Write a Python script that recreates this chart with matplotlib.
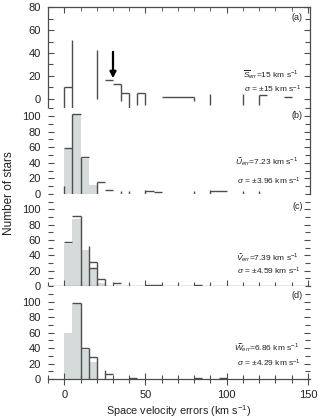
import numpy as np
import matplotlib
matplotlib.use("Agg")
import matplotlib.pyplot as plt
from matplotlib.ticker import MultipleLocator

plt.rcParams['font.family'] = ['Liberation Sans', 'DejaVu Sans']
plt.rcParams['mathtext.fontset'] = 'custom'
plt.rcParams['mathtext.rm'] = 'Liberation Sans'
plt.rcParams['mathtext.it'] = 'Liberation Sans:italic'

# ===== Data =====
# gray filled histograms (bins of 5 km/s starting at 0)
fill_edges = [0, 5, 10, 15, 20, 25]
b_fill = [58, 103, 45, 11]
c_fill = [55, 88, 47.5, 23, 3.5]
d_fill = [60, 97, 37, 22]

# open histogram: bin tops (left, right, count)
a_top_lo = [0, 25, 30, 35, 45, 60, 120, 135]
a_top_hi = [5, 30, 35, 40, 50, 80, 125, 140]
a_top_val = [10, 16.5, 13, 5.5, 5.5, 2, 3.5, 2]

b_top_lo = [0, 5, 10, 20, 25, 50, 55, 90]
b_top_hi = [5, 10, 15, 25, 30, 55, 60, 100]
b_top_val = [59, 103, 47, 15, 5, 4, 2, 4]

c_top_lo = [0, 5, 15, 15, 20, 30, 50, 80]
c_top_hi = [5, 10, 20, 20, 25, 35, 60, 85]
c_top_val = [57.5, 91, 31, 23, 9, 4, 1.3, 1]

d_top_lo = [5, 10, 15, 25, 40, 80, 95]
d_top_hi = [10, 15, 20, 30, 45, 85, 100]
d_top_val = [98, 40, 29, 6, 1, 1, 1]

# open histogram: bin edges (x, bottom, top)
a_edge_x = [0, 5, 20, 35, 40, 45, 50, 80, 90, 110, 120]
a_edge_lo = [-8, -8, 0, -1.5, -8, -5, -5, -2, -5, -5, -5]
a_edge_hi = [10, 51, 42.5, 13, 5.5, 5.5, 5.5, 2, 4, 4, 3.5]

b_edge_x = [0, 5, 10, 20, 35, 40, 50, 80, 90, 110, 120]
b_edge_lo = [-8, 0, 0, 0, -4, -4, -4, -4, -4, -4, -4]
b_edge_hi = [10, 103, 47, 15, 4, 4, 5, 4, 5, 4, 4]

c_edge_x = [10, 15, 20, 25]
c_edge_lo = [0, 0, 0, 0]
c_edge_hi = [91, 52, 31, 9]

d_edge_x = [10, 15, 20, 25]
d_edge_lo = [0, 0, 0, 0]
d_edge_hi = [98, 40, 29, 11]

# arrow in panel (a)
arrow_x, arrow_from, arrow_to = 30, 41, 18

panel_tags = ["(a)", "(b)", "(c)", "(d)"]
stat_lines = [
    r"$\overline{S}_{err}$=15 km s$^{-1}$",
    r"$\widetilde{U}_{err}$=7.23 km s$^{-1}$",
    r"$\widetilde{V}_{err}$=7.39 km s$^{-1}$",
    r"$\widetilde{W}_{err}$=6.86 km s$^{-1}$",
]
sigma_lines = [
    r"$\sigma$ = $\pm$15 km s$^{-1}$",
    r"$\sigma$ = $\pm$3.96 km s$^{-1}$",
    r"$\sigma$ = $\pm$4.59 km s$^{-1}$",
    r"$\sigma$ = $\pm$4.29 km s$^{-1}$",
]
ylims = [(-8, 80), (0, 110), (0, 120), (0, 120)]

# ===== Plotting =====
line_c = "#4d4d4d"
fill_c = "#d4dbda"
text_c = "#222222"

fig = plt.figure(figsize=(3.19, 4.18), dpi=100)
gs = fig.add_gridspec(4, 1, height_ratios=[101, 86, 92, 93], hspace=0,
                      left=0.1505, right=0.973, top=0.983, bottom=0.0933)
axes = [fig.add_subplot(gs[i]) for i in range(4)]

fills = [None, b_fill, c_fill, d_fill]
tops = [(a_top_lo, a_top_hi, a_top_val), (b_top_lo, b_top_hi, b_top_val),
        (c_top_lo, c_top_hi, c_top_val), (d_top_lo, d_top_hi, d_top_val)]
edges = [(a_edge_x, a_edge_lo, a_edge_hi), (b_edge_x, b_edge_lo, b_edge_hi),
         (c_edge_x, c_edge_lo, c_edge_hi), (d_edge_x, d_edge_lo, d_edge_hi)]
tag_y = [0.90, 0.915, 0.87, 0.90]
stat_y = [(0.33, 0.19), (0.37, 0.15), (0.31, 0.155), (0.34, 0.17)]

for i, ax in enumerate(axes):
    if fills[i] is not None:
        vals = fills[i]
        lefts = np.array(fill_edges[:len(vals)])
        ax.bar(lefts, vals, width=5, align="edge", color=fill_c, linewidth=0, zorder=1)
    lo, hi, v = tops[i]
    ax.hlines(v, lo, hi, color=line_c, linewidth=1.0, zorder=2)
    ex, elo, ehi = edges[i]
    ax.vlines(ex, elo, ehi, color=line_c, linewidth=1.0, zorder=2)

    ax.set_xlim(-10, 151.5)
    ax.set_ylim(*ylims[i])
    ax.xaxis.set_major_locator(MultipleLocator(50))
    ax.xaxis.set_minor_locator(MultipleLocator(10))
    ax.yaxis.set_major_locator(MultipleLocator(20))
    ax.yaxis.set_minor_locator(MultipleLocator(10))
    ax.tick_params(axis="y", which="both", direction="in", left=True, right=True,
                   labelsize=8, labelcolor=text_c, color=line_c, pad=5)
    ax.tick_params(axis="y", which="major", length=4.5, width=0.8)
    ax.tick_params(axis="y", which="minor", length=3.5, width=0.8)

    ax.text(0.97, tag_y[i], panel_tags[i], transform=ax.transAxes, ha="right",
            va="center", fontsize=6.5, color=text_c)
    ax.text(0.955, stat_y[i][0], stat_lines[i], transform=ax.transAxes, ha="right",
            va="center", fontsize=6, color=text_c)
    ax.text(0.965, stat_y[i][1], sigma_lines[i], transform=ax.transAxes, ha="right",
            va="center", fontsize=6, color=text_c)

# panel (a): full box, ticks inward
ax = axes[0]
for s in ["left", "right", "top"]:
    ax.spines[s].set_color(line_c)
    ax.spines[s].set_linewidth(0.9)
ax.spines["bottom"].set_visible(False)
ax.set_yticks([0, 20, 40, 60, 80])
ax.tick_params(axis="x", which="both", bottom=False, top=True, direction="in",
               labelbottom=False, color=line_c)
ax.tick_params(axis="x", which="major", length=4.5)
ax.tick_params(axis="x", which="minor", length=3)
ax.annotate("", xy=(arrow_x, arrow_to), xytext=(arrow_x, arrow_from),
            arrowprops=dict(arrowstyle="-|>", color="black", lw=1.6,
                            mutation_scale=9, shrinkA=0, shrinkB=0))

# panel (b): right spine only
ax = axes[1]
for s in ["left", "top", "bottom"]:
    ax.spines[s].set_visible(False)
ax.spines["right"].set_color(line_c)
ax.spines["right"].set_linewidth(0.9)
ax.set_yticks([0, 20, 40, 60, 80, 100])
ax.tick_params(axis="x", which="both", bottom=False, top=False, labelbottom=False)

# panels (c), (d): baseline at zero with crossing ticks
for ax in axes[2:]:
    for s in ["left", "top", "right"]:
        ax.spines[s].set_visible(False)
    ax.spines["bottom"].set_color(line_c)
    ax.spines["bottom"].set_linewidth(0.9)
    ax.set_yticks([0, 20, 40, 60, 80, 100])
    ax.tick_params(axis="x", which="both", direction="inout", color=line_c,
                   top=False, labelsize=8, labelcolor=text_c, pad=4)
    ax.tick_params(axis="x", which="major", length=8, width=0.8)
    ax.tick_params(axis="x", which="minor", length=6, width=0.8)
axes[2].tick_params(axis="x", labelbottom=False)

fig.text(0.5611, 1 - 411 / 418, r"Space velocity errors (km s$^{-1}$)", ha="center",
         va="center", fontsize=7.8, color=text_c)
fig.text(0.027, 1 - 193 / 418, "Number of stars", rotation=90, ha="center",
         va="center", fontsize=8.5, color=text_c)

fig.savefig("out.png", dpi=100)
